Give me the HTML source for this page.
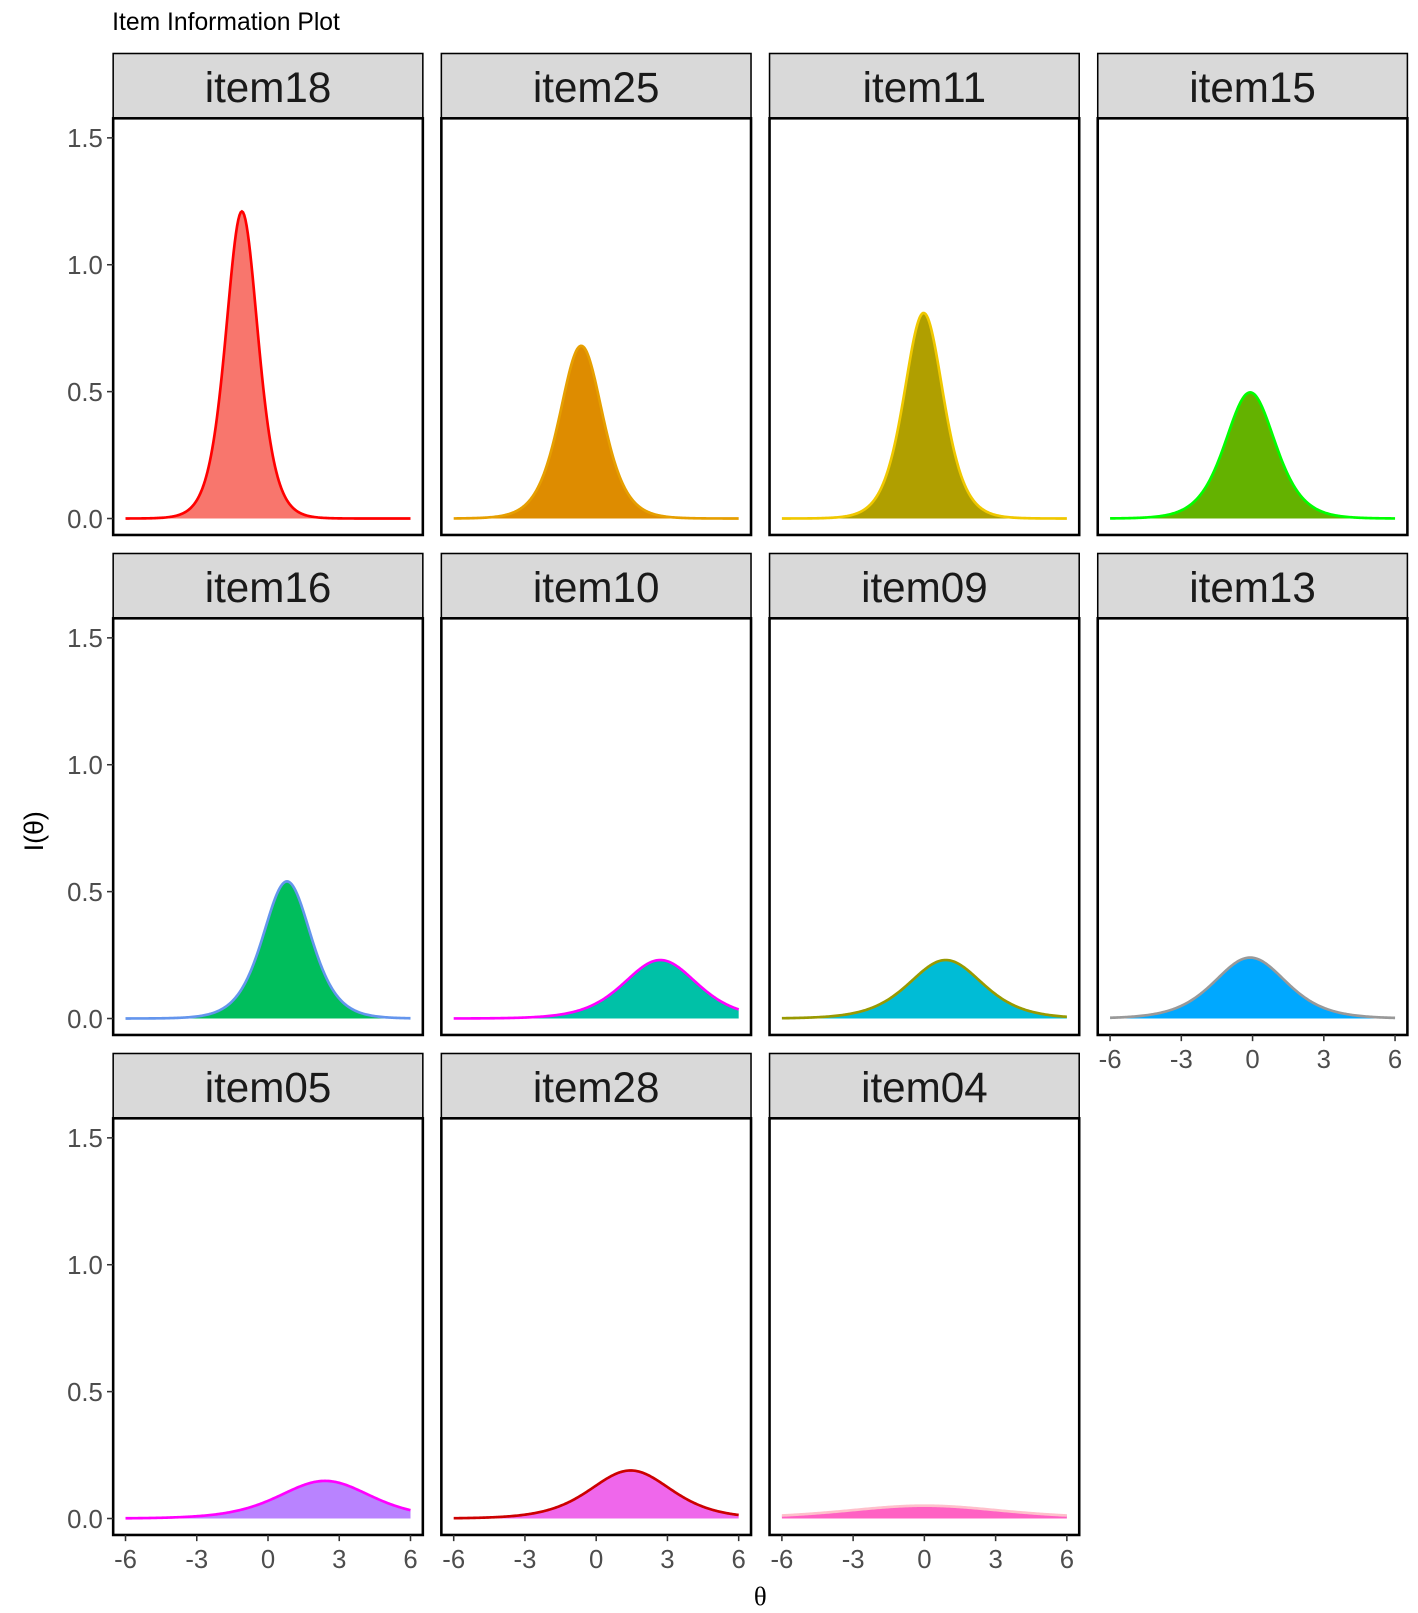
<!DOCTYPE html>
<html><head><meta charset="utf-8"><style>
html,body{margin:0;padding:0;background:#fff;}
svg{display:block;font-family:"Liberation Sans",sans-serif;}
</style></head><body>
<svg id="chart" width="1418" height="1613" viewBox="0 0 1418 1613">
<g transform="scale(1.0288)">
<text x="109" y="29" font-size="24" fill="#000">Item Information Plot</text>
<text transform="translate(42,808) rotate(-90)" text-anchor="middle" font-size="26" fill="#000">I(θ)</text>
<text x="739" y="1560" text-anchor="middle" font-size="26" fill="#000" font-family="Liberation Serif,serif">θ</text>
<g id="panels"></g>
</g>
</svg>
<script>
const items = ["item18","item25","item11","item15","item16","item10","item09","item13","item05","item28","item04"];
const discrim = [2.2,1.65,1.8,1.41,1.47,0.96,0.96,0.98,0.77,0.87,0.45];
const difficulty = [-1.1,-0.63,-0.03,-0.1,0.8,2.7,0.9,-0.1,2.4,1.45,0.0];
const fillColors = ["#F8766D","#DE8C00","#B09F00","#64B200","#00BE5C","#00C1A7","#00BCD6","#00A8FF","#B983FF","#EF67EB","#FF61C3"];
const lineColors = ["#FF0000","#E69F00","#F0C800","#00FF00","#6495ED","#FF00FF","#999900","#999999","#FF00FF","#CC0000","#FFC0CB"];
const xTicks = [-6,-3,0,3,6];
const xTickLabels = ["-6","-3","0","3","6"];
const yTicks = [0,0.5,1.0,1.5];
const yTickLabels = ["0.0","0.5","1.0","1.5"];

const NS="http://www.w3.org/2000/svg";
const root=document.getElementById('panels');
function mk(tag,attrs,parent){const e=document.createElementNS(NS,tag);for(const k in attrs)e.setAttribute(k,attrs[k]);(parent||root).appendChild(e);return e;}
const colX=[110,429,748,1067], pw=301;
const rowTop=[52,538,1024], stripH=63, ph=405;
function xs(c,v){return colX[c]+12+(v+6)*(277/12);}
function ys(r,v){const base=rowTop[r]+stripH+ph-16;return base-v*(370/1.5);}

items.forEach((name,i)=>{
  const r=Math.floor(i/4), c=i%4;
  const g=mk('g',{});
  
  
  const py=rowTop[r]+stripH;
  const strip=mk('rect',{x:colX[c],y:rowTop[r],width:pw,height:stripH,fill:'#D9D9D9',stroke:'#000','stroke-width':1.5},g);
  
  
  const st=mk('text',{x:colX[c]+pw/2,y:rowTop[r]+47,'text-anchor':'middle','font-size':41,fill:'#1A1A1A'},g);
  st.textContent=name;
  
  
  mk('rect',{x:colX[c],y:py,width:pw,height:ph,fill:'#fff'},g);
  const a=discrim[i], b=difficulty[i];
  let pts=[];
  for(let k=0;k<=240;k++){const t=-6+12*k/240;const p=1/(1+Math.exp(-a*(t-b)));pts.push([xs(c,t),ys(r,a*a*p*(1-p))]);}
  const line=pts.map((p,k)=>(k?'L':'M')+p[0].toFixed(2)+','+p[1].toFixed(2)).join('');
  const area=mk('path',{d:line+'L'+xs(c,6)+','+ys(r,0)+'L'+xs(c,-6)+','+ys(r,0)+'Z',fill:fillColors[i]},g);
  
  
  const ln=mk('path',{d:line,fill:'none',stroke:lineColors[i],'stroke-width':2.6},g);
  
  
  const border=mk('rect',{x:colX[c],y:py,width:pw,height:ph,fill:'none',stroke:'#000','stroke-width':2.5},g);
  
  
  if(c===0){
    yTicks.forEach((v,k)=>{
      mk('line',{x1:colX[c]-6,x2:colX[c],y1:ys(r,v),y2:ys(r,v),stroke:'#333','stroke-width':1.5},g);
      const t=mk('text',{x:colX[c]-10,y:ys(r,v)+9,'text-anchor':'end','font-size':25,fill:'#4D4D4D'},g);
      t.textContent=yTickLabels[k];
      
      
    });
  }
  if(r===2||(r===1&&c===3)){
    xTicks.forEach((v,k)=>{
      mk('line',{x1:xs(c,v),x2:xs(c,v),y1:py+ph,y2:py+ph+6,stroke:'#333','stroke-width':1.5},g);
      const t=mk('text',{x:xs(c,v),y:py+ph+32,'text-anchor':'middle','font-size':25,fill:'#4D4D4D'},g);
      t.textContent=xTickLabels[k];
      
      
    });
  }
});
</script>
</body></html>
